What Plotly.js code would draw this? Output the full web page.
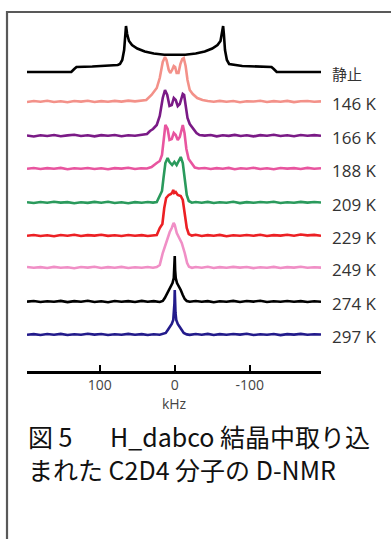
<!DOCTYPE html>
<html>
<head>
<meta charset="utf-8">
<script src="https://cdn.plot.ly/plotly-3.0.1.min.js"></script>
<style>
html,body{margin:0;padding:0;background:#fff;}
#chart{width:391px;height:539px;}
</style>
</head>
<body>
<div id="chart"></div>
<script>
// ---- data: [frequency kHz, intensity above own baseline] ----
const seriesNames = ["静止", "146 K", "166 K", "188 K", "209 K", "229 K", "249 K", "274 K", "297 K"];
const tickValues = [100, 0, -100];
const tickLabels = ["100", "0", "-100"];
const axisTitle = "kHz";
const captionLine1 = "図 5\u3000\u2002H_dabco 結晶中取り込";
const captionLine2 = "まれた C2D4 分子の D-NMR";

const specStatic = [[197,0],[175,0],[150,0],[138,0],[134,3],[131,5],[110,5.5],[90,6],[76,7],[73,8],[70,12],[67.5,22],[66,38],[65,46],[63.5,38],[61,31],[57,27],[50,23.5],[40,20.5],[28,18.5],[14,17.2],[0,17],[-14,17.2],[-28,18.5],[-40,20.5],[-50,23.5],[-57,27],[-61,31],[-63,38],[-64.5,46],[-65.5,38],[-67,22],[-69.5,12],[-72.5,8],[-90,6],[-110,5.5],[-129,5],[-132,3],[-136,0],[-150,0],[-175,0],[-195,0]];

const spec146 = [[197,0],[188,1],[179,0.3],[170,1.2],[161,0],[152,0.8],[143,-0.3],[134,1],[125,0.4],[116,1.3],[107,0],[98,0.9],[89,0.2],[80,1.1],[71,0.4],[62,1.4],[53,0.6],[45,1.2],[38,2],[31,7],[24,14],[20,24],[16,40],[13,45],[11,42],[8,32],[6,29],[3.5,32],[1.3,36],[-0.5,35],[-2.5,29],[-5,29],[-7.5,38],[-10,43],[-12,44],[-14.5,36],[-17,22],[-20,12],[-24,8],[-30,4],[-37,2],[-44,1],[-52,0.2],[-60,1.1],[-69,0.3],[-78,1],[-87,-0.2],[-96,0.8],[-105,0.5],[-114,1.2],[-123,0],[-132,0.9],[-141,0.3],[-150,1.1],[-159,-0.1],[-168,0.7],[-177,1],[-186,0.2],[-195,0.6]];

const spec166 = [[197,0.5],[188,-0.5],[179,0.8],[170,0],[161,1],[152,-0.3],[143,0.6],[134,1.2],[125,0],[116,0.7],[107,-0.4],[98,0.9],[89,0.2],[80,1],[71,-0.2],[62,0.8],[53,0.3],[45,1],[37,2],[33,5],[29,7],[24,11],[20,20],[16,38],[13,46],[10,41],[7,30],[4,31],[1.3,38],[-1.3,36],[-4,30],[-6.7,32],[-10.7,42],[-12.5,41],[-15,28],[-17,18],[-20,12],[-25,7],[-29,3],[-33,1],[-40,0.4],[-48,1],[-56,-0.3],[-64,0.8],[-72,0.1],[-80,1.1],[-88,0],[-96,0.7],[-105,-0.4],[-114,0.9],[-123,0.3],[-132,1.2],[-141,0],[-150,0.8],[-159,-0.2],[-168,1],[-177,0.3],[-186,0.9],[-195,0.2]];

const spec188 = [[197,0.3],[188,1],[179,0],[170,0.9],[161,0.2],[152,1.1],[143,-0.2],[134,0.7],[125,0.3],[116,1],[107,0],[98,0.8],[89,-0.3],[80,0.9],[71,0.4],[62,1.2],[53,0],[45,0.8],[37,0.5],[31,2],[24,6],[20,8],[17,14],[15,28],[12.5,44],[9.5,40],[7,29],[4,30],[1.3,36],[-1.3,34],[-4,29],[-6.7,32],[-10.7,44],[-13,36],[-15.5,20],[-18.5,10],[-22.7,6],[-26.7,1.5],[-32,0.5],[-40,1],[-48,0],[-56,0.9],[-64,0.2],[-72,1.1],[-80,-0.2],[-88,0.8],[-96,0.3],[-105,1.2],[-114,0],[-123,0.7],[-132,-0.3],[-141,1],[-150,0.4],[-159,0.9],[-168,0],[-177,1.1],[-186,0.3],[-195,0.8]];

const spec209 = [[197,0.8],[188,0],[179,1],[170,0.2],[161,1.2],[152,0.4],[143,0.9],[134,-0.2],[125,0.8],[116,0.1],[107,1.1],[98,0.3],[89,1.3],[80,0],[71,0.7],[62,-0.2],[53,0.9],[44,0.3],[36,1],[29,0.4],[24,1],[20,8],[17,12],[15,25],[12.5,40],[9.5,45],[7,41],[3.5,38],[0.5,41],[-2.5,38],[-5,42],[-8,46],[-10.7,40],[-13.3,24],[-16,8],[-18.7,2],[-22.7,0.3],[-28,1],[-36,0.2],[-44,1.1],[-52,0],[-60,0.8],[-69,0.3],[-78,1.2],[-87,-0.1],[-96,0.9],[-105,0.2],[-114,1],[-123,0.5],[-132,1.3],[-141,0],[-150,0.8],[-159,0.2],[-168,1.1],[-177,0.4],[-186,1],[-195,0.5]];

const spec229 = [[197,0.2],[188,1],[179,0],[170,0.7],[161,-0.2],[152,1],[143,0.3],[134,1.2],[125,0],[116,0.9],[107,0.4],[98,1.3],[89,0.1],[80,0.8],[71,0],[62,1],[53,0.2],[44,0.9],[36,0],[29,0.8],[24,1],[20,8],[16.5,12],[14,28],[11.5,38],[8,41],[5,42],[3,44],[2,46],[0.7,43],[-1.3,44],[-4,41],[-8,40],[-10.7,36],[-13.3,22],[-16,8],[-18.7,2],[-22.7,0.4],[-28,1.2],[-36,0],[-44,0.9],[-52,0.3],[-60,1.1],[-69,-0.2],[-78,0.7],[-87,0.2],[-96,1],[-105,0.3],[-114,1.2],[-123,0],[-132,0.9],[-141,0.4],[-150,1.3],[-159,0.2],[-168,1.5],[-177,0.6],[-186,1.1],[-195,0.3]];

const spec249 = [[197,1],[188,0.2],[179,0.9],[170,0],[161,1.1],[152,0.3],[143,0.8],[134,-0.2],[125,1],[116,0.4],[107,1.2],[98,0],[89,0.9],[80,0.3],[71,1.1],[62,0],[53,0.8],[44,0.2],[36,1],[29,0.3],[24,1],[20,3],[16,15],[12,25],[9.3,31],[6.7,36],[4,40],[1.5,45],[0,43],[-2.7,35],[-5.3,31],[-9.3,25],[-13.3,15],[-16.5,5],[-19,1.2],[-23,0.2],[-28,1],[-36,0.3],[-44,1.2],[-52,0],[-60,0.9],[-69,0.2],[-78,1.1],[-87,0.4],[-96,1],[-105,-0.1],[-114,0.8],[-123,0.3],[-132,1.1],[-141,0],[-150,0.9],[-159,0.4],[-168,1.2],[-177,0.2],[-186,0.8],[-195,0.4]];

const spec274 = [[197,0.4],[188,1],[179,0],[170,0.8],[161,0.2],[152,1.1],[143,-0.1],[134,0.9],[125,0.3],[116,1.2],[107,0],[98,0.7],[89,-0.3],[80,1],[71,0.2],[62,0.9],[53,0],[44,1.1],[36,0.3],[28,0.9],[20,0],[16,1],[13.3,4],[10.7,8],[8,12],[5.3,16],[3,19],[1.3,24],[0.5,32],[0,46],[-0.5,32],[-1.3,24],[-3,19],[-5.3,16],[-8,12],[-10.7,7],[-13.3,3],[-16,1],[-20,0.2],[-28,1],[-36,0.2],[-44,0.9],[-52,-0.2],[-60,0.8],[-69,0.3],[-78,1.1],[-87,0],[-96,1],[-105,0.4],[-114,1.2],[-123,0],[-132,0.8],[-141,0.2],[-150,1],[-159,0.3],[-168,0.9],[-177,0],[-186,0.8],[-195,0.3]];

const spec297 = [[197,0.2],[188,0.9],[179,0],[170,1],[161,0.3],[152,1.1],[143,0],[134,0.8],[125,0.2],[116,1.2],[107,0.4],[98,1],[89,0],[80,0.7],[71,0.3],[62,1.1],[53,0.2],[44,0.9],[36,0],[28,0.8],[20,0.2],[16,0.8],[12,2],[9.3,5],[6.7,8],[4,11],[2,15],[1,22],[0.4,32],[0,45],[-0.4,32],[-1,22],[-2,15],[-4,11],[-6.7,8],[-9.3,5],[-12,2],[-16,0.6],[-20,0.1],[-28,1],[-36,0.3],[-44,1.1],[-52,0],[-60,0.9],[-69,0.2],[-78,1],[-87,0.4],[-96,1.2],[-105,0],[-114,0.8],[-123,0.3],[-132,1],[-141,-0.1],[-150,0.9],[-159,0.4],[-168,1.1],[-177,0.2],[-186,0.8],[-195,0.5]];

const spectra = [specStatic, spec146, spec166, spec188, spec209, spec229, spec249, spec274, spec297];

// ---- styling / positioning ----
const colors = ["#000000", "#f39189", "#7a1a86", "#e8559f", "#2a9a5c", "#ec2024", "#f08fc6", "#000000", "#231b8b"];
const offsets = [299, 269, 235, 202, 168, 135, 103, 69, 36];

const traces = spectra.map((s, i) => ({
  type: "scatter",
  mode: "lines",
  x: s.map(p => p[0]),
  y: s.map(p => p[1] + offsets[i]),
  line: {color: colors[i], width: 2.6, shape: "linear"},
  hoverinfo: "skip",
  showlegend: false
}));

const annotations = seriesNames.map((n, i) => ({
  xref: "paper", yref: "y",
  x: 1, y: offsets[i] - 1,
  xanchor: "left", yanchor: "middle",
  xshift: 9,
  text: n,
  showarrow: false,
  font: {family: i === 0 ? "Noto Sans CJK JP" : "Open Sans", size: i === 0 ? 15 : 17, color: "#333"}
}));

annotations.push({
  xref: "paper", yref: "paper", x: 0, y: -0.185, xanchor: "left", yanchor: "middle",
  xshift: -1, text: captionLine1, showarrow: false,
  font: {family: "Noto Sans CJK JP", size: 25, color: "#111"}
});
annotations.push({
  xref: "paper", yref: "paper", x: 0, y: -0.278, xanchor: "left", yanchor: "middle",
  xshift: -1, text: captionLine2, showarrow: false,
  font: {family: "Noto Sans CJK JP", size: 25, color: "#111"}
});

const layout = {
  width: 391, height: 539,
  margin: {l: 27, r: 70, t: 20, b: 168},
  paper_bgcolor: "#fff", plot_bgcolor: "#fff",
  showlegend: false,
  xaxis: {
    range: [197, -195],
    tickvals: tickValues, ticktext: tickLabels,
    showgrid: false, zeroline: false,
    showline: true, linecolor: "#000", linewidth: 2.6,
    ticks: "inside", ticklen: 6, tickwidth: 2.2, tickcolor: "#000",
    tickfont: {family: "Open Sans", size: 14, color: "#444"},
    title: {text: axisTitle, font: {family: "Open Sans", size: 14, color: "#444"}, standoff: 0},
    fixedrange: true
  },
  yaxis: {range: [0, 351], visible: false, fixedrange: true},
  annotations: annotations,
  shapes: [{
    type: "rect", xref: "paper", yref: "paper",
    x0: -0.068, x1: 1.5, y0: -1, y1: 1.0228,
    line: {color: "#595959", width: 2.2}, fillcolor: "rgba(0,0,0,0)"
  }]
};

Plotly.newPlot("chart", traces, layout, {staticPlot: true, displayModeBar: false});
</script>
</body>
</html>
